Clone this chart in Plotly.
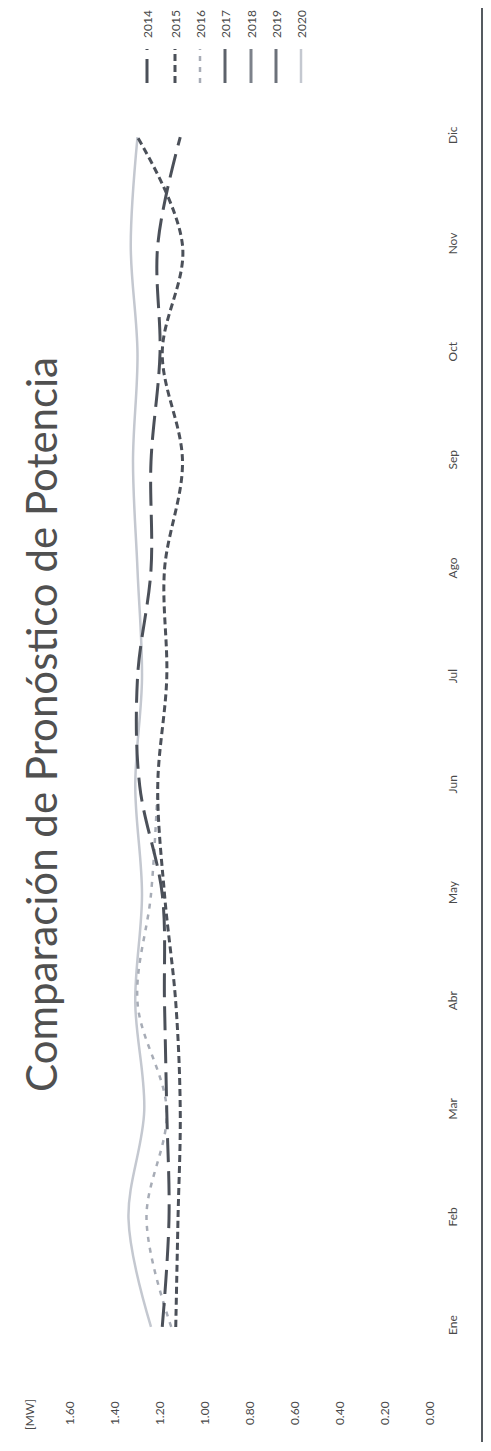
import plotly.graph_objects as go

# ---------------- data ----------------
months = ["Ene", "Feb", "Mar", "Abr", "May", "Jun", "Jul", "Ago", "Sep", "Oct", "Nov", "Dic"]
years = ["2014", "2015", "2016", "2017", "2018", "2019", "2020"]

s2014 = [1.19, 1.16, 1.17, 1.18, 1.19, 1.29, 1.30, 1.24, 1.24, 1.20, 1.21, 1.11]
s2015 = [1.13, 1.12, 1.11, 1.13, 1.18, 1.21, 1.17, 1.18, 1.10, 1.19, 1.10, 1.30]
s2016 = [1.15, 1.26, 1.17, 1.30, 1.24, 1.21]
s2017 = []
s2018 = []
s2019 = []
s2020 = [1.24, 1.34, 1.27, 1.31, 1.28, 1.31, 1.28, 1.30, 1.32, 1.30, 1.33, 1.30]

value_ticks = [0.0, 0.2, 0.4, 0.6, 0.8, 1.0, 1.2, 1.4, 1.6]
value_ticktext = ["0.00", "0.20", "0.40", "0.60", "0.80", "1.00", "1.20", "1.40", "1.60"]

series = {"2014": s2014, "2015": s2015, "2016": s2016, "2017": s2017,
          "2018": s2018, "2019": s2019, "2020": s2020}

# ---------------- styles ----------------
DARK = "#4b5059"
styles = {
    "2014": dict(color=DARK, width=3, dash="24px,9px"),
    "2015": dict(color=DARK, width=3, dash="7px,4px"),
    "2016": dict(color="#a7acb6", width=2.5, dash="5px,6px"),
    "2017": dict(color="#5d626b", width=3, dash="solid"),
    "2018": dict(color="#7d828b", width=3, dash="solid"),
    "2019": dict(color="#6c717a", width=3, dash="solid"),
    "2020": dict(color="#c4c8d0", width=2.5, dash="solid"),
}

# page has an 8px body margin: figure is drawn offset by (8, 8)
OFF = 8
W, H = 491 - 2 * OFF, 1451 - 2 * OFF
# plot area in page pixels: x 70..430, y 83..1381
L = 70 - OFF
R = W - (430 - OFF)
T = 83 - OFF
B = H - (1381 - OFF)
pw, ph = W - L - R, H - T - B

fig = go.Figure()
for yr in ["2020", "2019", "2018", "2017", "2016", "2014", "2015"]:
    vals = series[yr]
    if not vals:
        continue
    fig.add_trace(go.Scatter(
        x=vals, y=list(range(len(vals))), mode="lines",
        line=dict(shape="spline", smoothing=1, **styles[yr]),
        name=yr, showlegend=False, hoverinfo="skip"))

TXT = "#4a4a4a"

fig.update_layout(
    width=W, height=H,
    margin=dict(l=L, r=R, t=T, b=B, pad=0),
    paper_bgcolor="white", plot_bgcolor="white",
    font=dict(family="Lato, Open Sans, sans-serif", color=TXT, size=12),
    xaxis=dict(range=[1.6, 0], tickvals=value_ticks, ticktext=value_ticktext,
               tickangle=-90, showgrid=False, zeroline=False, showline=False,
               ticks="", ticklabelstandoff=17, tickfont=dict(size=12, color=TXT)),
    yaxis=dict(range=[-0.5, 11.5], tickvals=list(range(12)), ticktext=months,
               side="right", tickangle=-90, showgrid=False, zeroline=False,
               showline=False, ticks="", ticklabelstandoff=14,
               tickfont=dict(size=12, color=TXT)),
)


def px_x(p):
    """page pixel x -> paper coordinate"""
    return (p - OFF - L) / pw


def px_y(p):
    """page pixel y -> paper coordinate"""
    return (H - B - (p - OFF)) / ph


# title
fig.add_annotation(text="Comparación de Pronóstico de Potencia", textangle=-90,
                   xref="paper", yref="paper", x=px_x(41), y=px_y(725),
                   xanchor="center", yanchor="middle", showarrow=False,
                   font=dict(size=42, color="#505050", family="Lato, sans-serif"))
# axis unit
fig.add_annotation(text="[MW]", textangle=-90, xref="paper", yref="paper",
                   x=px_x(29), y=px_y(1415), xanchor="center", yanchor="middle",
                   showarrow=False, font=dict(size=12, color=TXT))

# custom rotated legend
leg_x = [147, 175, 200, 225, 251, 276, 301]
for yr, lx in zip(years, leg_x):
    st = styles[yr]
    fig.add_shape(type="line", xref="paper", yref="paper",
                  x0=px_x(lx), x1=px_x(lx), y0=px_y(83), y1=px_y(49),
                  line=dict(color=st["color"], width=st["width"], dash=st["dash"]))
    fig.add_annotation(text=yr, textangle=-90, xref="paper", yref="paper",
                       x=px_x(lx), y=px_y(24), xanchor="center", yanchor="middle",
                       showarrow=False, font=dict(size=12, color=TXT))

# frame line at right
fig.add_shape(type="line", xref="paper", yref="paper",
              x0=px_x(482), x1=px_x(482), y0=px_y(8), y1=px_y(1442),
              line=dict(color="#555a60", width=2))

fig.write_html("out.html")
